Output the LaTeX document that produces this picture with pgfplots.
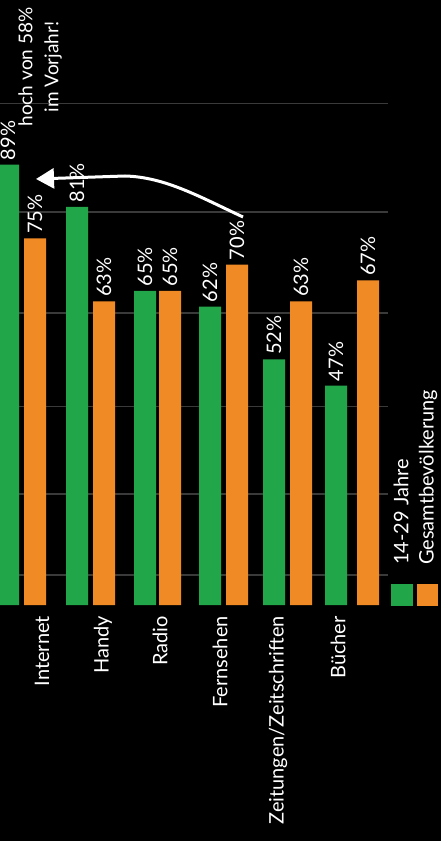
\documentclass[border=0pt]{standalone}
\usepackage{pgfplots}
\pgfplotsset{compat=1.18}
\usepackage{fontspec}
\setmainfont{Lato}
\usetikzlibrary{arrows.meta}
\definecolor{bargreen}{RGB}{34,166,74}
\definecolor{barorange}{RGB}{240,138,36}
\definecolor{gridgray}{RGB}{58,58,58}
\begin{document}
\begin{tikzpicture}
\fill[black] (0pt,-236pt) rectangle (441pt,605pt);
\useasboundingbox (0pt,-236pt) rectangle (441pt,605pt);
\begin{axis}[
  anchor=south west, at={(0pt,0pt)},
  scale only axis, width=441pt, height=605pt,
  xmin=0, xmax=441, ymin=5.3, ymax=120.3,
  axis line style={draw=none},
  major tick length=0pt,
  ytick=\empty,
  xtick={42,103,160,220,278,338},
  xticklabels={Internet,Handy,Radio,Fernsehen,Zeitungen/Zeitschriften,B\"ucher},
  xticklabel style={rotate=90, anchor=east, text=white, font=\fontsize{20}{22}\selectfont, inner sep=1pt, xshift=-10pt},
  /pgf/number format/assume math mode=true,
  ybar, bar width=22pt,
  nodes near coords={\pgfmathprintnumber{\pgfplotspointmeta}\%},
  nodes near coords style={rotate=90, anchor=west, text=white, font=\fontsize{20}{22}\selectfont, xshift=1pt},
]
\pgfplotsinvokeforeach{11.0,26.4,43.0,60.8,80.0,100.6}{
  \draw[gridgray, line width=1.5pt] (axis cs:0,#1) -- (axis cs:388,#1);
}
\addplot[fill=bargreen, draw=none, bar shift=0pt] coordinates {
  (8,89) (77,81) (145,65) (210,62) (274,52) (336,47)
};
\addplot[fill=barorange, draw=none, bar shift=0pt] coordinates {
  (35,75) (104,63) (170,65) (237,70) (301,63) (368,67)
};
\end{axis}
% annotation
\node[rotate=90, align=center, text=white, font=\fontsize{19}{26}\selectfont] at (40pt,538pt) {hoch von 58\%\\im Vorjahr!};
\draw[white, line width=3pt, -{Triangle[width=20pt,length=18pt]}]
  (243pt,388pt) .. controls (200pt,408pt) and (165pt,428pt) .. (125pt,429pt) -- (36pt,426pt);
% legend
\fill[bargreen] (391pt,-1pt) rectangle (413pt,21pt);
\fill[barorange] (417pt,-1pt) rectangle (438pt,21pt);
\node[rotate=90, anchor=west, text=white, font=\fontsize{20}{22}\selectfont, inner sep=0pt] at (401pt,40pt) {14-29 Jahre};
\node[rotate=90, anchor=west, text=white, font=\fontsize{20}{22}\selectfont, inner sep=0pt] at (428pt,40pt) {Gesamtbev\"olkerung};
\end{tikzpicture}
\end{document}
